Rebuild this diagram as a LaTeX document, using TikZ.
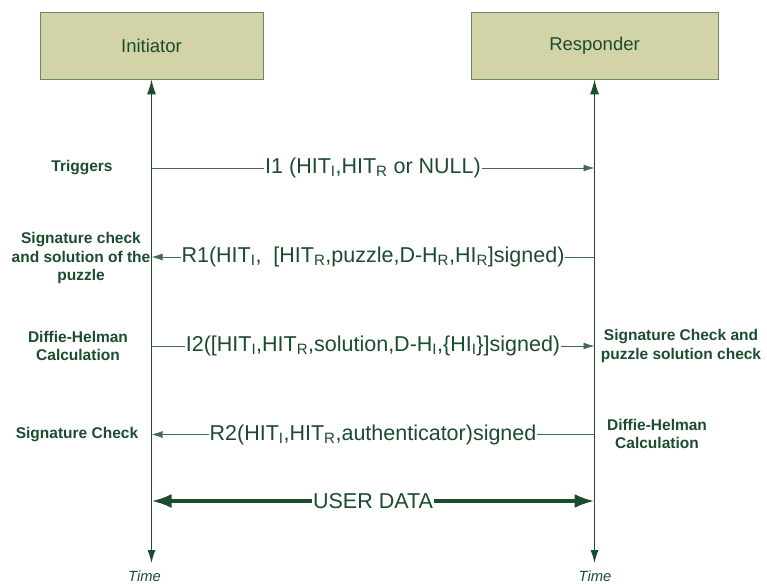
\documentclass[tikz,border=0pt]{standalone}
\usepackage{fontspec}
\setmainfont{Liberation Sans}
\usetikzlibrary{arrows.meta}

\definecolor{hipgreen}{RGB}{28,76,46}
\definecolor{hipline}{RGB}{70,105,80}
\definecolor{hipbox}{RGB}{211,211,168}
\definecolor{hipedge}{RGB}{105,135,105}

\tikzset{
    party/.style={draw=hipedge, fill=hipbox, line width=0.8pt,
        minimum height=67pt, text=hipgreen, font=\fontsize{18.5}{22}\selectfont},
    lifeline/.style={draw=hipgreen, line width=1.1pt,
        {Latex[length=15pt,width=9pt]}-{Latex[length=13pt,width=8pt]}},
    msg/.style={draw=hipline, line width=0.8pt},
    msgtip/.style={-{Latex[length=11pt,width=7pt]}},
    msglabel/.style={fill=white, inner sep=1pt, text=hipgreen,
        font=\fontsize{21.5}{24}\selectfont},
    note/.style={align=center, text=hipgreen, inner sep=0pt,
        font=\bfseries\fontsize{15.5}{18.5}\selectfont},
    timelabel/.style={text=hipgreen, font=\itshape\fontsize{14.8}{17}\selectfont}
}
\newcommand{\sbs}[1]{\textsubscript{#1}}

\begin{document}
\begin{tikzpicture}[x=1pt,y=-1pt]
    \useasboundingbox (0,0) rectangle (767,583);

    % the two parties
    \node[party, minimum width=223pt] (ini) at (151.5,45.5) {Initiator};
    \node[party, minimum width=247pt] (res) at (594.5,45.5) {Responder};
    \coordinate (iniend) at (151.5,563);
    \coordinate (resend) at (594.5,563);
    \draw[lifeline] (ini.south) -- (iniend);
    \draw[lifeline] (res.south) -- (resend);

    % ends of the messages on the lifelines
    \foreach \row/\y in {1/168,2/257,3/346,4/434.5,5/501} {
        \coordinate (i\row) at (151.5,\y);
        \coordinate (r\row) at (594.5,\y);
    }

    \draw[msg,msgtip] (i1) -- node[msglabel] {I1 (HIT\sbs{I},HIT\sbs{R} or NULL)} (r1);
    \draw[msg,msgtip] (r2) -- node[msglabel] {R1(HIT\sbs{I},\ \ [HIT\sbs{R},puzzle,D-H\sbs{R},HI\sbs{R}]signed)} (i2);
    \draw[msg,msgtip] (i3) -- node[msglabel] {I2([HIT\sbs{I},HIT\sbs{R},solution,D-H\sbs{I},\{HI\sbs{I}\}]signed)} (r3);
    \draw[msg,msgtip] (r4) -- node[msglabel] {R2(HIT\sbs{I},HIT\sbs{R},authenticator)signed} (i4);
    \draw[draw=hipgreen, line width=3.3pt,
        {Latex[length=20pt,width=14pt]}-{Latex[length=20pt,width=14pt]}]
        (i5) -- node[msglabel] {USER DATA} (r5);

    % what each side does
    \node[note] (trig) at (82,168) {Triggers};
    \node[note] (sigpuz) at (81,258) {Signature check\\and solution of the\\puzzle};
    \node[note] (dhini) at (78,346) {Diffie-Helman\\Calculation};
    \node[note] (sigini) at (77,435) {Signature Check};
    \node[note] (sigres) at (681,346) {Signature Check and\\puzzle solution check};
    \node[note] (dhres) at (657,434) {Diffie-Helman\\Calculation};

    \node[timelabel] (initime) at (144.5,576) {Time};
    \node[timelabel] (restime) at (595,576) {Time};
\end{tikzpicture}
\end{document}
